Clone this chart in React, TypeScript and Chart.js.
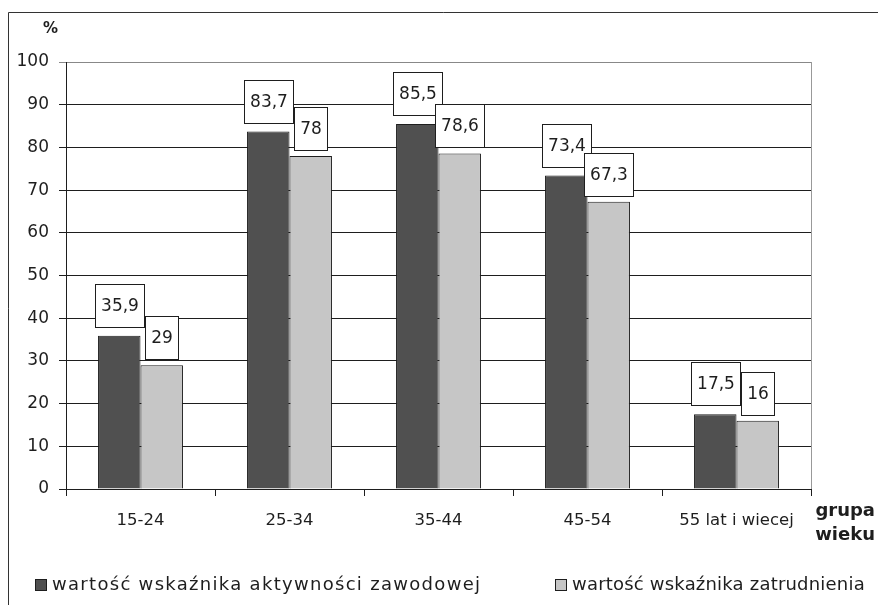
import React, { useEffect, useRef } from 'react';
import { Chart, registerables } from 'chart.js';

Chart.register(...registerables);

const categories = ['15-24', '25-34', '35-44', '45-54', '55 lat i wiecej'];
const activityRate = [35.9, 83.7, 85.5, 73.4, 17.5];
const employmentRate = [29, 78, 78.6, 67.3, 16];
const seriesNames = ['wartość wskaźnika aktywności zawodowej', 'wartość wskaźnika zatrudnienia'];
const seriesColors = ['#505050', '#c6c6c6'];
const yMin = 0;
const yMax = 100;
const yStep = 10;
const yAxisTitle = '%';
const xAxisTitle = ['grupa', 'wieku'];

const FONT = '"DejaVu Sans", sans-serif';
const INK = '#1e1e1e';

const fmt = (v: number) => String(v).replace('.', ',');

const labelPlugin = {
  id: 'boxLabels',
  afterDatasetsDraw(chart: any) {
    const ctx = chart.ctx;
    ctx.save();
    ctx.font = `17px ${FONT}`;
    ctx.textAlign = 'center';
    ctx.textBaseline = 'middle';
    chart.data.datasets.forEach((ds: any, di: number) => {
      const meta = chart.getDatasetMeta(di);
      meta.data.forEach((bar: any, i: number) => {
        const text = fmt(ds.data[i]);
        const w = Math.round(ctx.measureText(text).width + 11);
        const h = 43;
        const gap = di === 0 ? 9 : 6;
        const bottom = Math.round(bar.y - gap);
        const top = bottom - h;
        const left = Math.round(bar.x - w / 2);
        ctx.fillStyle = '#ffffff';
        ctx.fillRect(left, top, w, h);
        ctx.strokeStyle = INK;
        ctx.lineWidth = 1;
        ctx.strokeRect(left + 0.5, top + 0.5, w, h);
        ctx.fillStyle = INK;
        ctx.fillText(text, left + w / 2 + 0.5, top + h / 2 + 1);
      });
    });
    ctx.restore();
  },
};

const decorPlugin = {
  id: 'decor',
  afterDraw(chart: any) {
    const ctx = chart.ctx;
    const a = chart.chartArea;
    ctx.save();
    // outer frame
    ctx.strokeStyle = '#333333';
    ctx.lineWidth = 1;
    ctx.beginPath();
    ctx.moveTo(8.5, 605);
    ctx.lineTo(8.5, 12.5);
    ctx.lineTo(878, 12.5);
    ctx.stroke();
    // plot right border
    ctx.strokeStyle = '#999999';
    ctx.beginPath();
    ctx.moveTo(Math.round(a.right) + 0.5, a.top);
    ctx.lineTo(Math.round(a.right) + 0.5, a.bottom);
    ctx.stroke();
    // axis titles
    ctx.fillStyle = INK;
    ctx.font = `bold 15px ${FONT}`;
    ctx.textAlign = 'left';
    ctx.textBaseline = 'middle';
    ctx.fillText(yAxisTitle, 43, 29);
    ctx.font = `bold 18px ${FONT}`;
    ctx.textAlign = 'right';
    ctx.fillText(xAxisTitle[0], 875, 511);
    ctx.fillText(xAxisTitle[1], 875, 535);
    // legend
    const legendY = 585;
    const items = [
      { x: 35, text: seriesNames[0], color: seriesColors[0], sp: '1.3px' },
      { x: 555, text: seriesNames[1], color: seriesColors[1], sp: '0.2px' },
    ];
    ctx.font = `18px ${FONT}`;
    ctx.textAlign = 'left';
    items.forEach((it) => {
      ctx.fillStyle = it.color;
      ctx.fillRect(it.x, legendY - 6, 12, 12);
      ctx.strokeStyle = INK;
      ctx.strokeRect(it.x + 0.5, legendY - 5.5, 11, 11);
      ctx.fillStyle = INK;
      (ctx as any).letterSpacing = it.sp;
      ctx.fillText(it.text, it.x + 17, legendY);
    });
    ctx.restore();
  },
};

export default function App() {
  const ref = useRef<HTMLCanvasElement>(null);
  useEffect(() => {
    if (!ref.current) return;
    const chart = new Chart(ref.current, {
      type: 'bar',
      data: {
        labels: categories,
        datasets: [
          {
            label: seriesNames[0],
            data: activityRate,
            backgroundColor: seriesColors[0],
            borderColor: INK,
            borderWidth: 1,
            categoryPercentage: 0.57,
            barPercentage: 1.0,
          },
          {
            label: seriesNames[1],
            data: employmentRate,
            backgroundColor: seriesColors[1],
            borderColor: INK,
            borderWidth: 1,
            categoryPercentage: 0.57,
            barPercentage: 1.0,
          },
        ],
      },
      options: {
        responsive: false,
        animation: false,
        devicePixelRatio: 1,
        layout: { padding: { top: 62, right: 67, left: 0, bottom: 0 } },
        plugins: {
          legend: { display: false },
          tooltip: { enabled: false },
        },
        scales: {
          x: {
            grid: {
              drawOnChartArea: false,
              drawTicks: true,
              tickLength: 7,
              color: INK,
            },
            border: { color: INK },
            ticks: {
              color: INK,
              font: { family: FONT, size: 16.5 },
              padding: 15,
              maxRotation: 0,
            },
            afterFit: (s: any) => {
              s.height = 116;
            },
          },
          y: {
            min: yMin,
            max: yMax,
            ticks: {
              stepSize: yStep,
              color: INK,
              font: { family: FONT, size: 17 },
              padding: 10,
            },
            grid: {
              tickLength: 7,
              color: (c: any) => (c.tick && c.tick.value === yMax ? '#888888' : INK),
            },
            border: { color: INK },
            afterFit: (s: any) => {
              s.width = 66;
            },
          },
        },
      },
      plugins: [labelPlugin, decorPlugin],
    });
    return () => chart.destroy();
  }, []);
  return (
    <div style={{ position: 'absolute', left: 0, top: 0, width: 878, height: 605, background: '#fff' }}>
      <canvas ref={ref} width={878} height={605} style={{ display: 'block' }} />
    </div>
  );
}
